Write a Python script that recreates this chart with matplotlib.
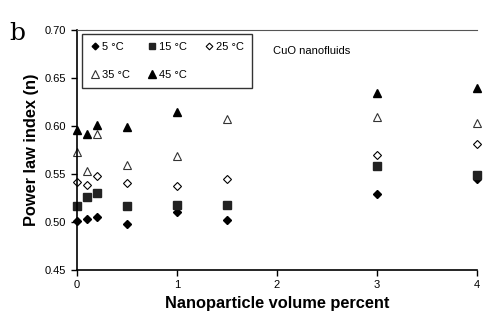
import matplotlib
matplotlib.use("Agg")
import matplotlib.pyplot as plt

plt.rcParams['font.family'] = ['Liberation Sans', 'DejaVu Sans']

# Nanoparticle volume percent
x_vals = [0, 0.1, 0.2, 0.5, 1, 1.5, 3, 4]

# Power law index (n) per temperature
n_5 = [0.501, 0.503, 0.505, 0.498, 0.510, 0.502, 0.529, 0.545]
n_15 = [0.517, 0.526, 0.530, 0.517, 0.518, 0.518, 0.558, 0.549]
n_25 = [0.542, 0.538, 0.548, 0.541, 0.537, 0.545, 0.570, 0.581]
n_35 = [0.573, 0.553, 0.592, 0.559, 0.569, 0.607, 0.609, 0.603]
# no 45 °C point at 1.5 %
x_45 = [0, 0.1, 0.2, 0.5, 1, 3, 4]
n_45 = [0.596, 0.592, 0.601, 0.599, 0.614, 0.634, 0.639]

fig = plt.figure(figsize=(4.83, 3.18), dpi=100)
ax = fig.add_axes([0.159, 0.151, 0.829, 0.755])

h5, = ax.plot(x_vals, n_5, 'D', color='black', ms=4, ls='none', label='5 °C', clip_on=False)
h15, = ax.plot(x_vals, n_15, 's', color='#222222', ms=5.5, ls='none', label='15 °C', clip_on=False)
h25, = ax.plot(x_vals, n_25, 'D', mfc='white', mec='black', mew=0.8, ms=4, ls='none', label='25 °C', clip_on=False)
h35, = ax.plot(x_vals, n_35, '^', mfc='white', mec='#333333', mew=0.8, ms=6, ls='none', label='35 °C', clip_on=False)
h45, = ax.plot(x_45, n_45, '^', color='black', ms=6, ls='none', label='45 °C', clip_on=False)

ax.set_xlim(0, 4)
ax.set_ylim(0.45, 0.70)
ax.set_xticks([0, 1, 2, 3, 4])
ax.set_yticks([0.45, 0.50, 0.55, 0.60, 0.65, 0.70])
ax.set_yticklabels(['0.45', '0.50', '0.55', '0.60', '0.65', '0.70'])
ax.tick_params(labelsize=8, direction='out', length=4, width=1)

ax.spines['right'].set_visible(False)
ax.spines['top'].set_color('#555555')
for s in ['left', 'bottom']:
    ax.spines[s].set_linewidth(1.2)

ax.set_xlabel('Nanoparticle volume percent', fontsize=11.8, fontweight='bold', labelpad=4)
ax.set_ylabel('Power law index (n)', fontsize=11.8, fontweight='bold', labelpad=4)

# row-major order in a 3-column legend
handles = [h5, h35, h15, h45, h25]
leg = ax.legend(handles=handles, labels=[h.get_label() for h in handles],
                loc='upper left', ncol=3, fontsize=8, frameon=True, fancybox=False,
                edgecolor='black', borderpad=0.75, handletextpad=0.2, columnspacing=1.6,
                labelspacing=1.6, handlelength=0.8, markerscale=0.85,
                bbox_to_anchor=(0.0, 1.008))
leg.get_frame().set_linewidth(1.0)

ax.text(0.49, 0.9, 'CuO nanofluids', transform=ax.transAxes, fontsize=8)
fig.text(0.02, 0.895, 'b', fontsize=18, family='DejaVu Serif', va='center')

fig.savefig('out.png', dpi=100)
